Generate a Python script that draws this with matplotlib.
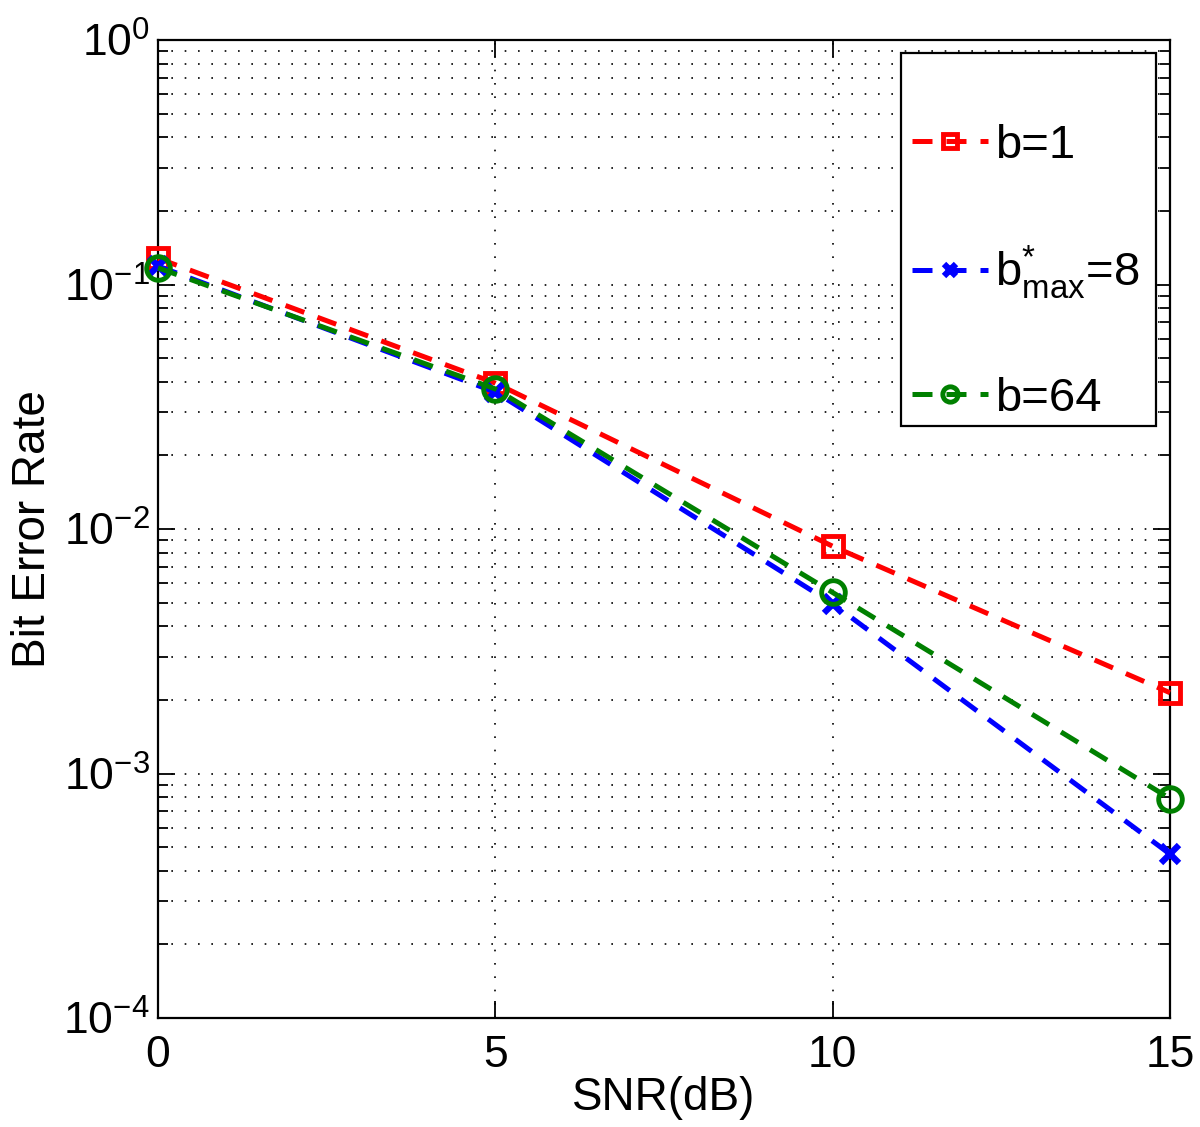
import matplotlib
matplotlib.use('Agg')
import matplotlib.pyplot as plt
import matplotlib.patches as patches
from matplotlib.ticker import FixedLocator
import numpy as np

plt.rcParams['font.family'] = ['Liberation Sans', 'DejaVu Sans']
plt.rcParams['mathtext.fontset'] = 'custom'
plt.rcParams['mathtext.rm'] = 'Liberation Sans'
plt.rcParams['mathtext.it'] = 'Liberation Sans'
plt.rcParams['mathtext.default'] = 'rm'

# данные
snr = [0, 5, 10, 15]
ber_b1 = [0.128, 0.0395, 0.0085, 0.00214]
ber_bmax = [0.119, 0.0363, 0.00495, 0.000468]
ber_b64 = [0.117, 0.0374, 0.0055, 0.00079]
yticks = [1e-4, 1e-3, 1e-2, 1e-1, 1e0]
ytick_labels = ['$10^{-4}$', '$10^{-3}$', '$10^{-2}$', '$10^{-1}$', '$10^{0}$']

W, H = 1200, 1127
fig = plt.figure(figsize=(W / 100, H / 100), dpi=100)
ax = fig.add_axes([158 / W, 1 - 1018 / H, (1170 - 158) / W, (1018 - 40) / H])

lw = 3.6
dash = (4, 2.8)
ax.semilogy(snr, ber_b1, ls='--', dashes=dash, color='red', lw=lw, marker='s',
            ms=15, mfc='none', mew=3.5, label='b=1', clip_on=False, zorder=3)
ax.semilogy(snr, ber_bmax, ls='--', dashes=dash, color='blue', lw=lw, marker='x',
            ms=13, mew=4.5, label='$b^{*}_{max}$=8', clip_on=False, zorder=3)
ax.semilogy(snr, ber_b64, ls='--', dashes=dash, color='green', lw=lw, marker='o',
            ms=17, mfc='none', mew=3.5, label='b=64', clip_on=False, zorder=3)

ax.set_xlim(0, 15)
ax.set_ylim(1e-4, 1)
ax.set_xticks([0, 5, 10, 15])
ax.set_yticks(yticks)
ax.set_yticklabels(ytick_labels)
ax.yaxis.set_minor_locator(FixedLocator(
    [m * 10.0 ** e for e in range(-4, 0) for m in range(2, 10)]))
ax.yaxis.set_minor_formatter(plt.NullFormatter())

grid_ls = (0, (1, 7))
ax.grid(True, which='major', ls=grid_ls, color='black', lw=1.2)
ax.grid(True, which='minor', axis='y', ls=grid_ls, color='black', lw=1.2)
ax.tick_params(which='both', direction='in', top=True, right=True, width=1.3)
ax.tick_params(which='major', length=12, labelsize=32)
ax.tick_params(which='minor', length=7)
ax.tick_params(axis='x', pad=12)
ax.tick_params(axis='y', pad=6)
for s in ax.spines.values():
    s.set_linewidth(1.6)

ax.set_xlabel('SNR(dB)', fontsize=33, labelpad=0)
ax.set_ylabel('Bit Error Rate', fontsize=33, labelpad=6)

# рамка легенды
box = patches.Rectangle((901 / W, 1 - 426 / H), (1156 - 901) / W, (426 - 53) / H,
                        transform=fig.transFigure, facecolor='white',
                        edgecolor='black', lw=1.6, zorder=4, clip_on=False)
ax.add_patch(box)

leg = ax.legend(loc='upper left', fontsize=34, handlelength=1.6,
                labelspacing=1.6, borderpad=0, borderaxespad=0,
                handletextpad=0.15, frameon=False, markerscale=0.65,
                bbox_to_anchor=(912 / W, 1 - 124 / H),
                bbox_transform=fig.transFigure)
leg.set_zorder(5)

plt.savefig('out.png', dpi=100)
